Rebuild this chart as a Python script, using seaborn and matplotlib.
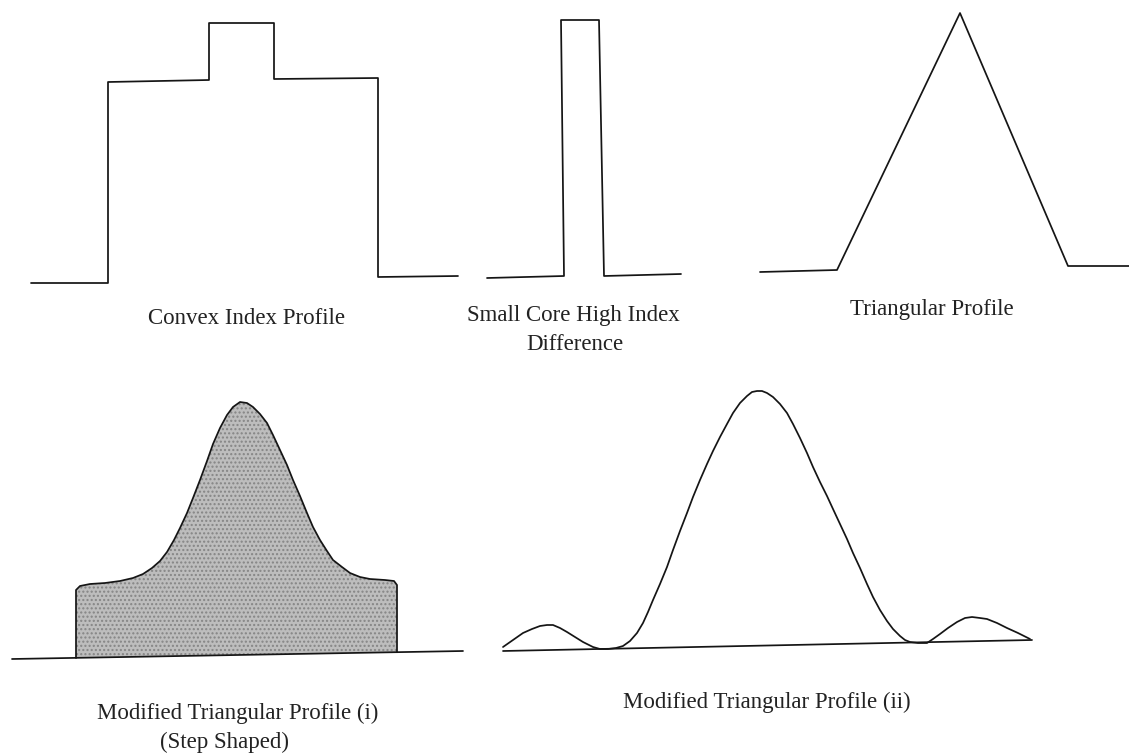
import matplotlib
matplotlib.use("Agg")
import matplotlib.pyplot as plt
import seaborn as sns

# profile outlines (x to the right, y downward in pixels)
convex_x = [31, 108, 108, 209, 209, 274, 274, 378, 378, 458]
convex_y = [283, 283, 82, 80, 23, 23, 79, 78, 277, 276]

small_core_x = [487, 564, 561, 599, 604, 681]
small_core_y = [278, 276, 20, 20, 276, 274]

triangle_x = [760, 837, 960, 1068, 1129]
triangle_y = [272, 270, 13, 266, 266]

# modified triangular (i), step shaped, shaded
step_x = [76, 76, 80, 90, 105, 120, 133, 143, 152, 160, 167, 174, 180, 187,
          193, 200, 207, 213, 220, 227, 233, 240, 247, 253, 260, 267, 273,
          280, 287, 293, 300, 307, 313, 320, 327, 333, 342, 350, 360, 370,
          385, 394, 397, 397]
step_y = [658, 590, 586, 584, 583, 581, 578, 574, 568, 561, 552, 540, 528, 513,
          498, 480, 461, 444, 428, 415, 407, 402, 403, 407, 414, 423, 435,
          450, 465, 480, 496, 513, 527, 540, 551, 560, 567, 573, 577, 579,
          580, 581, 585, 652]
step_base_x = [12, 463]
step_base_y = [659, 651]

# modified triangular (ii)
mod2_x = [503, 513, 523, 532, 540, 547, 553, 560, 567, 575, 583, 593, 600,
          608, 616, 623, 630, 637, 643, 648, 653, 660, 667, 673, 680, 687,
          693, 700, 707, 713, 720, 727, 733, 740, 747, 752, 757, 762, 767,
          773, 780, 787, 793, 800, 807, 813, 820, 827, 833, 840, 847, 853,
          860, 867, 873, 880, 887, 893, 900, 905, 910, 918, 927, 933, 940,
          948, 957, 965, 972, 980, 987, 997, 1007, 1018, 1030]
mod2_y = [647, 640, 633, 629, 626, 625, 625, 628, 632, 637, 642, 647, 649,
          649, 648, 646, 641, 633, 623, 612, 600, 584, 567, 550, 531, 513,
          497, 480, 464, 451, 437, 424, 413, 403, 396, 392, 391, 391, 393,
          397, 404, 413, 424, 438, 453, 467, 482, 496, 509, 524, 539, 553,
          568, 584, 597, 610, 621, 629, 636, 640, 642, 643, 643, 639, 634,
          628, 622, 618, 617, 618, 619, 623, 628, 633, 639]
mod2_base_x = [503, 1032]
mod2_base_y = [651, 640]

labels = [
    ("Convex Index Profile", 246, 318),
    ("Small Core High Index", 573, 316),
    ("Difference", 575, 345),
    ("Triangular Profile", 932, 310),
    ("Modified Triangular Profile (i)", 238, 713),
    ("(Step Shaped)", 224, 742),
    ("Modified Triangular Profile (ii)", 767, 702),
]

sns.set_theme(style="white")
plt.rcParams['font.family'] = ['Liberation Serif', 'DejaVu Serif']

fig = plt.figure(figsize=(11.29, 7.56), dpi=100)
ax = fig.add_axes([0, 0, 1, 1])
ax.set_xlim(0, 1129)
ax.set_ylim(756, 0)
ax.axis("off")

line_kw = dict(sort=False, estimator=None, color="#151515", linewidth=1.25, ax=ax)

sns.lineplot(x=convex_x, y=convex_y, **line_kw)
sns.lineplot(x=small_core_x, y=small_core_y, **line_kw)
sns.lineplot(x=triangle_x, y=triangle_y, **line_kw)

# shaded step-shaped profile
ax.fill(step_x, step_y, facecolor="#bdbdbd", edgecolor="#858585",
        hatch="....", linewidth=0)
sns.lineplot(x=step_x, y=step_y, **line_kw)
sns.lineplot(x=step_base_x, y=step_base_y, **line_kw)

sns.lineplot(x=mod2_x, y=mod2_y, **line_kw)
sns.lineplot(x=mod2_base_x, y=mod2_base_y, **line_kw)

for line in ax.lines:
    line.set_solid_joinstyle("round")

for text, tx, ty in labels:
    ax.text(tx, ty, text, ha="center", va="center", fontsize=16.5,
            color="#222222")

fig.savefig("out.png", dpi=100, facecolor="white")
